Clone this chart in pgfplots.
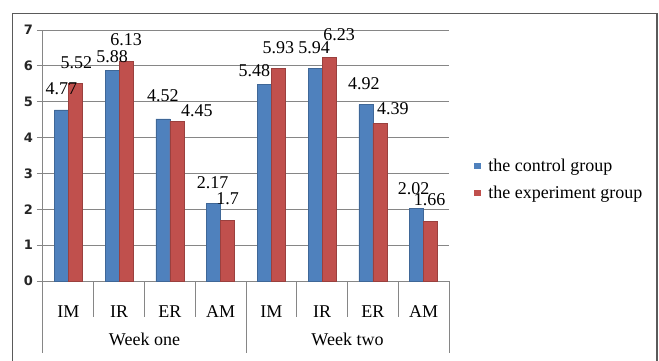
\documentclass[border=0pt]{standalone}
\usepackage{pgfplots}
\pgfplotsset{compat=1.18}
\usepackage{pgfplotstable}
\usepackage{fontspec}
\setmainfont{Liberation Serif}
\newfontfamily\axisnumfont{DejaVu Sans}

\definecolor{ctrlblue}{RGB}{79,129,189}
\definecolor{exptred}{RGB}{192,80,77}
\definecolor{gridgray}{RGB}{134,134,134}
\definecolor{framegray}{RGB}{90,90,90}

% x: category slot; v: mean score; dx, gap: offset of the value label (bp)
\pgfplotstableread{
x v dx gap
0.5 4.77 0 15
1.5 5.88 0 7.7
2.5 4.52 0 17
3.5 2.17 -1 15
4.5 5.48 -10 7.6
5.5 5.94 -1 15
6.5 4.92 -2 15
7.5 2.02 -3 14
}\controldata
\pgfplotstableread{
x v dx gap
0.5 5.52 1 15
1.5 6.13 0 16
2.5 4.45 20 5
3.5 1.70 0 16
4.5 5.93 0 15
5.5 6.23 10 17
6.5 4.39 13 9
7.5 1.66 -1 16
}\experimentdata

\newcommand\chartfont{\fontsize{18bp}{21bp}\selectfont}

\begin{document}
\begin{tikzpicture}
\useasboundingbox (0,0) rectangle (659bp,361bp);
\fill[white] (0,0) rectangle (659bp,361bp);
\draw[framegray, line width=1.2bp] (12.3bp,-2bp) -- (12.3bp,347.5bp) -- (657bp,347.5bp) -- (657bp,-2bp);
\begin{axis}[
  at={(43bp,80bp)}, anchor=south west,
  scale only axis, width=406bp, height=251bp,
  xmin=0, xmax=8, ymin=0, ymax=7,
  ybar=0pt, bar width=14bp,
  clip=false,
  axis x line*=bottom, axis y line*=left,
  axis line style={gridgray, line width=1bp},
  ytick={0,1,2,3,4,5,6,7},
  ymajorgrids, grid style={gridgray, line width=1bp},
  ytick style={gridgray, line width=1bp},
  tick align=outside, major tick length=6bp,
  yticklabel style={font=\axisnumfont\bfseries\fontsize{13bp}{14bp}\selectfont,
    text=black!85, anchor=east, inner sep=0pt, xshift=-4bp},
  xtick={0.5,1.5,2.5,3.5,4.5,5.5,6.5,7.5},
  xticklabels={IM,IR,ER,AM,IM,IR,ER,AM},
  x tick style={draw=none},
  xticklabel style={font=\chartfont, anchor=base,
    inner sep=0pt, yshift=-30bp},
  /pgf/number format/assume math mode=true,
  nodes near coords,
  visualization depends on={\thisrow{dx} \as \labdx},
  visualization depends on={\thisrow{gap} \as \labgap},
  every node near coord/.append style={font=\chartfont,
    anchor=base, inner sep=0pt, xshift=\labdx bp, yshift=\labgap bp, text=black},
  legend image code/.code={\fill[#1, draw=none] (0bp,-3.3bp) rectangle (6.5bp,3.3bp);
    \path[draw=none, fill=none] (0bp,0bp) -- (12bp,0bp);},
  legend cell align=left,
  legend style={draw=none, fill=none, at={(1.062,0.494)}, anchor=north west,
    inner sep=0pt, font=\chartfont,
    row sep=9bp, nodes={inner sep=2bp}},
]
\addplot[fill=ctrlblue, draw=ctrlblue!80!black, line width=0.4bp]
  table[x=x, y=v] {\controldata};
\addlegendentry{the control group}
\addplot[fill=exptred, draw=exptred!80!black, line width=0.4bp]
  table[x=x, y=v] {\experimentdata};
\addlegendentry{the experiment group}

% two-level category axis: slot dividers and week dividers
\pgfplotsinvokeforeach{0,1,2,3,4,5,6,7,8}{
  \draw[gridgray, line width=1bp] (axis cs:#1,0) -- ++(0,-36bp);
}
\pgfplotsinvokeforeach{0,4,8}{
  \draw[gridgray, line width=1bp] (axis cs:#1,0) -- ++(0,-72bp);
}
\node[font=\chartfont, anchor=base, inner sep=0pt]
  at (axis cs:2,0) [yshift=-64bp] {Week one};
\node[font=\chartfont, anchor=base, inner sep=0pt]
  at (axis cs:6,0) [yshift=-64bp] {Week two};
\end{axis}
\end{tikzpicture}
\end{document}
